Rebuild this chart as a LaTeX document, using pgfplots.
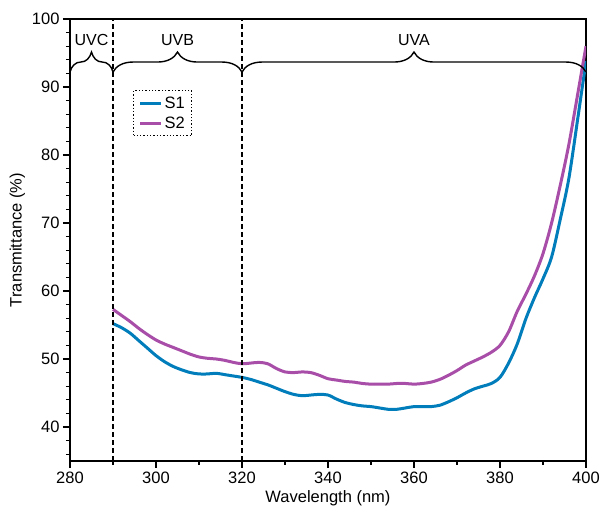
\documentclass[border=0pt]{standalone}
\usepackage{pgfplots}
\pgfplotsset{compat=1.18}
\usepackage{fontspec}
\setmainfont{Liberation Sans}
\usetikzlibrary{decorations.pathreplacing}
\definecolor{sone}{RGB}{0,125,186}
\definecolor{stwo}{RGB}{168,77,168}
\begin{document}
\begin{tikzpicture}
\useasboundingbox (-70pt,-52pt) rectangle (530pt,461pt);
\begin{axis}[
  at={(0pt,0pt)}, anchor=south west,
  scale only axis, width=516pt, height=442pt,
  xmin=280, xmax=400, ymin=35, ymax=100,
  xtick={280,300,...,400}, minor xtick={290,310,...,390},
  ytick={40,50,...,100}, minor ytick={36,38,42,44,46,48,52,54,56,58,62,64,66,68,72,74,76,78,82,84,86,88,92,94,96,98},
  tick align=outside, tick pos=left,
  major tick length=7pt, minor tick length=4pt,
  every major tick/.append style={line width=1.3pt, black},
  every minor tick/.append style={line width=1.1pt, black},
  axis line style={line width=1.5pt},
  /pgf/number format/assume math mode=true,
  tick label style={font=\fontsize{16.5}{19}\selectfont},
  label style={font=\fontsize{16.5}{19}\selectfont},
  xlabel={Wavelength (nm)}, ylabel={Transmittance (\%)},
  legend style={at={(rel axis cs:0.122,0.839)}, anchor=north west, draw=black, dotted, line width=1.3pt,
    font=\fontsize{16.5}{19}\selectfont, inner xsep=5pt, inner ysep=4pt, row sep=3pt},
  legend cell align=left,
  legend image code/.code={\draw[#1, solid, line width=3pt] (0pt,0pt) -- (21pt,0pt);},
]
\addplot[sone, line width=3pt, smooth] coordinates {
(290,55.2)(292,54.6)(294,53.8)(296,52.7)(298,51.6)(300,50.5)(302,49.6)(304,48.9)(306,48.4)(308,48.0)
(310,47.8)(312,47.8)(314,47.9)(316,47.7)(318,47.5)(320,47.3)(322,47.0)(324,46.6)(326,46.2)(328,45.7)
(330,45.2)(332,44.8)(334,44.6)(336,44.7)(338,44.8)(340,44.7)(342,44.1)(344,43.6)(346,43.3)(348,43.1)
(350,43.0)(352,42.8)(354,42.6)(356,42.6)(358,42.8)(360,43.0)(362,43.0)(364,43.0)(366,43.2)(368,43.7)
(370,44.3)(372,45.0)(374,45.6)(376,46.0)(378,46.4)(380,47.3)(382,49.4)(384,52.2)(386,55.9)(388,59.0)
(390,61.8)(392,65.0)(394,70.5)(396,76.5)(398,85.0)(400,93.8)};
\addlegendentry{S1}
\addplot[stwo, line width=3pt, smooth] coordinates {
(290,57.3)(292,56.4)(294,55.5)(296,54.5)(298,53.6)(300,52.8)(302,52.2)(304,51.7)(306,51.2)(308,50.7)
(310,50.3)(312,50.1)(314,50.0)(316,49.8)(318,49.5)(320,49.3)(322,49.4)(324,49.5)(326,49.3)(328,48.6)
(330,48.1)(332,48.0)(334,48.1)(336,48.0)(338,47.6)(340,47.1)(342,46.9)(344,46.7)(346,46.6)(348,46.4)
(350,46.3)(352,46.3)(354,46.3)(356,46.4)(358,46.4)(360,46.3)(362,46.4)(364,46.6)(366,47.0)(368,47.6)
(370,48.3)(372,49.1)(374,49.7)(376,50.3)(378,51.0)(380,52.0)(382,54.0)(384,57.0)(386,59.5)(388,62.2)
(390,65.5)(392,70.0)(394,75.5)(396,81.5)(398,88.7)(400,96.0)};
\addlegendentry{S2}
\draw[dash pattern=on 5pt off 3pt, line width=1.3pt] (axis cs:290,35) -- (axis cs:290,100);
\draw[dash pattern=on 5pt off 3pt, line width=1.3pt] (axis cs:320,35) -- (axis cs:320,100);
\draw[line width=1.4pt, decorate, decoration={brace, amplitude=20pt}] (axis cs:280,92.2) -- (axis cs:290,92.2);
\draw[line width=1.4pt, decorate, decoration={brace, amplitude=20pt}] (axis cs:290,92.2) -- (axis cs:320,92.2);
\draw[line width=1.4pt, decorate, decoration={brace, amplitude=20pt}] (axis cs:320,92.2) -- (axis cs:400,92.2);
\node[font=\fontsize{16}{19}\selectfont] at (axis cs:285,96.9) {UVC};
\node[font=\fontsize{16}{19}\selectfont] at (axis cs:305,96.9) {UVB};
\node[font=\fontsize{16}{19}\selectfont] at (axis cs:360,96.9) {UVA};
\end{axis}
% tick marks drawn outside the axis environment (516pt / 120 nm = 4.3pt per nm; 442pt / 65 % = 6.8pt per %)
\foreach \i in {0,...,6} {\draw[line width=1.3pt, line cap=butt] (\i*86pt,0.75pt) -- (\i*86pt,-7pt);}
\foreach \i in {0,...,5} {\draw[line width=1.1pt, line cap=butt] (\i*86pt+43pt,0.75pt) -- (\i*86pt+43pt,-4pt);}
\foreach \v in {40,50,...,100} {\draw[line width=1.3pt, line cap=butt] (0.75pt,{(\v-35)*6.8pt}) -- (-7pt,{(\v-35)*6.8pt});}
\foreach \v in {36,38,42,44,46,48,52,54,56,58,62,64,66,68,72,74,76,78,82,84,86,88,92,94,96,98} {\draw[line width=1.1pt, line cap=butt] (0.75pt,{(\v-35)*6.8pt}) -- (-4pt,{(\v-35)*6.8pt});}
\end{tikzpicture}
\end{document}
